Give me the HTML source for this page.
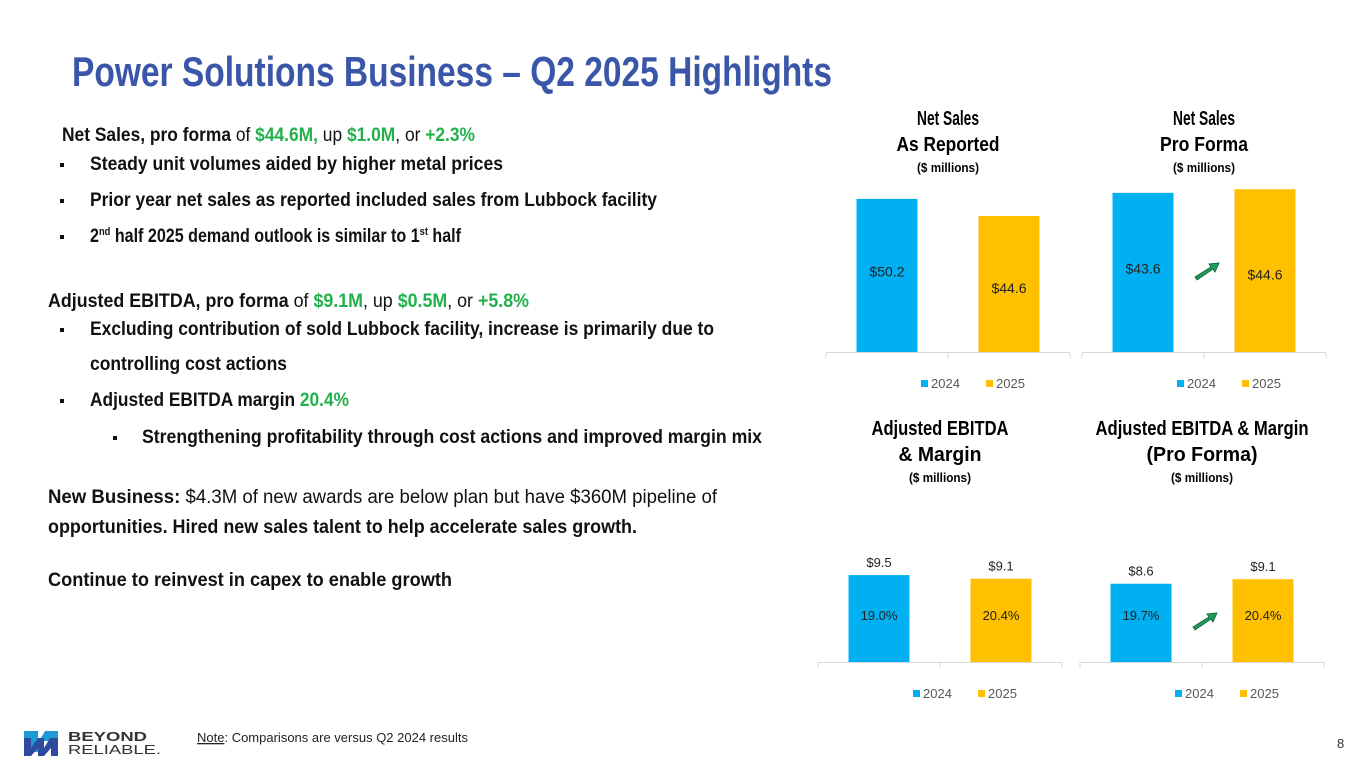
<!DOCTYPE html>
<html><head><meta charset="utf-8"><style>
html,body{margin:0;padding:0;background:#fff;}
svg{display:block;}
.c{font-family:"Liberation Sans Narrow","Liberation Sans",sans-serif;font-weight:bold;}
.s{font-family:"Liberation Sans",sans-serif;}
</style></head><body>
<svg id="root" width="1365" height="768" viewBox="0 0 1365 768" xmlns="http://www.w3.org/2000/svg">
<text class="c" x="72" y="86" font-size="42" fill="#3a56a8" textLength="760" lengthAdjust="spacingAndGlyphs">Power Solutions Business – Q2 2025 Highlights</text>
<g class="c" font-size="19" fill="#111">
<text x="62" y="141" textLength="413" lengthAdjust="spacingAndGlyphs">Net Sales, pro forma <tspan font-weight="normal">of </tspan><tspan fill="#22b14c">$44.6M,</tspan><tspan font-weight="normal"> up </tspan><tspan fill="#22b14c">$1.0M</tspan><tspan font-weight="normal">, or </tspan><tspan fill="#22b14c">+2.3%</tspan></text>
<rect x="60" y="163" width="4" height="4"/><text x="90" y="170" textLength="413" lengthAdjust="spacingAndGlyphs">Steady unit volumes aided by higher metal prices</text>
<rect x="60" y="199" width="4" height="4"/><text x="90" y="206" textLength="567" lengthAdjust="spacingAndGlyphs">Prior year net sales as reported included sales from Lubbock facility</text>
<rect x="60" y="235" width="4" height="4"/><text x="90" y="242" textLength="371" lengthAdjust="spacingAndGlyphs">2<tspan font-size="11" dy="-7">nd</tspan><tspan dy="7"> half 2025 demand outlook is similar to 1</tspan><tspan font-size="11" dy="-7">st</tspan><tspan dy="7"> half</tspan></text>
<text x="48" y="307" textLength="481" lengthAdjust="spacingAndGlyphs">Adjusted EBITDA, pro forma <tspan font-weight="normal">of </tspan><tspan fill="#22b14c">$9.1M</tspan><tspan font-weight="normal">,  up </tspan><tspan fill="#22b14c">$0.5M</tspan><tspan font-weight="normal">, or </tspan><tspan fill="#22b14c">+5.8%</tspan></text>
<rect x="60" y="328" width="4" height="4"/><text x="90" y="335" textLength="624" lengthAdjust="spacingAndGlyphs">Excluding contribution of sold Lubbock facility, increase is primarily due to</text>
<text x="90" y="370" textLength="197" lengthAdjust="spacingAndGlyphs">controlling cost actions</text>
<rect x="60" y="399" width="4" height="4"/><text x="90" y="406" textLength="259" lengthAdjust="spacingAndGlyphs">Adjusted EBITDA margin <tspan fill="#22b14c">20.4%</tspan></text>
<rect x="113" y="436" width="4" height="4"/><text x="142" y="443" textLength="620" lengthAdjust="spacingAndGlyphs">Strengthening profitability through cost actions and improved margin mix</text>
<text x="48" y="503" textLength="669" lengthAdjust="spacingAndGlyphs">New Business:  <tspan font-weight="normal">$4.3M of new awards are below plan but have $360M pipeline of</tspan></text>
<text x="48" y="533" textLength="589" lengthAdjust="spacingAndGlyphs">opportunities. Hired new sales talent to help accelerate sales growth.</text>
<text x="48" y="586" textLength="404" lengthAdjust="spacingAndGlyphs">Continue to reinvest in capex to enable growth</text>
</g>
<g id="charts"></g>
<g>
<polygon points="24,731 38,731 38,743 45,731 58,731 58,741 44,741 38,752 24,752" fill="#1b9ad6"/>
<polygon points="24,738 31,738 31,748 38,738 44,738 44,748 50,738 58,738 58,756 51,756 51,748 44,756 38,756 38,748 31,756 24,756" fill="#2e4a9e"/>
<text class="s" x="68" y="741" font-size="13" font-weight="bold" fill="#333" textLength="79" lengthAdjust="spacingAndGlyphs">BEYOND</text>
<text class="s" x="68" y="754" font-size="13" fill="#333" textLength="93" lengthAdjust="spacingAndGlyphs">RELIABLE.</text>
</g>
<text class="s" x="197" y="742" font-size="13" fill="#222"><tspan text-decoration="underline">Note</tspan>: Comparisons are versus Q2 2024 results</text>
<text class="s" x="1337" y="748" font-size="13" fill="#333">8</text>
</svg>
<script>
const years = ["2024", "2025"];
const netSalesReported = [50.2, 44.6];
const netSalesProForma = [43.6, 44.6];
const ebitda = [9.5, 9.1];
const ebitdaMargin = ["19.0%", "20.4%"];
const ebitdaProForma = [8.6, 9.1];
const ebitdaProFormaMargin = ["19.7%", "20.4%"];
const colors = ["#00b0f0", "#ffc000"];
const NS = "http://www.w3.org/2000/svg";
const root = document.getElementById("charts");
function mk(tag, attrs, parent) {
  const e = document.createElementNS(NS, tag);
  for (const k in attrs) e.setAttribute(k, attrs[k]);
  (parent || root).appendChild(e);
  return e;
}
function chart(cfg) {
  const g = mk("g", {});
  
  
  const w = cfg.x1 - cfg.x0, slot = w / years.length;
  const y = v => cfg.base - v * cfg.scale;
  cfg.title.forEach((t, i) => {
    const tt = mk("text", {x: (cfg.x0 + cfg.x1) / 2, y: cfg.ty + i * 26, "text-anchor": "middle", "font-size": 20, fill: "#000", class: "c", textLength: cfg.tl[i], lengthAdjust: "spacingAndGlyphs"}, g);
    tt.textContent = t;
    
    
  });
  const sub = mk("text", {x: (cfg.x0 + cfg.x1) / 2, y: cfg.ty + 47, "text-anchor": "middle", "font-size": 13, fill: "#000", class: "c", textLength: 62, lengthAdjust: "spacingAndGlyphs"}, g);
  sub.textContent = "($ millions)";
  
  
  mk("line", {x1: cfg.x0, x2: cfg.x1, y1: cfg.base + 0.5, y2: cfg.base + 0.5, stroke: "#d9d9d9"}, g);
  for (let i = 0; i <= years.length; i++) mk("line", {x1: cfg.x0 + i * slot, x2: cfg.x0 + i * slot, y1: cfg.base, y2: cfg.base + 6, stroke: "#d9d9d9"}, g);
  cfg.values.forEach((v, i) => {
    const bw = slot * 0.5, bx = cfg.x0 + i * slot + (slot - bw) / 2;
    const r = mk("rect", {x: bx, y: y(v), width: bw, height: cfg.base - y(v), fill: colors[i]}, g);
    
    
    const cx = bx + bw / 2;
    if (cfg.inner) {
      const lt = mk("text", {x: cx, y: cfg.innerY, "text-anchor": "middle", "font-size": 13, fill: "#222", class: "s"}, g);
      lt.textContent = cfg.inner[i];
      
      
      const vt = mk("text", {x: cx, y: y(v) - 8, "text-anchor": "middle", "font-size": 13, fill: "#222", class: "s"}, g);
      vt.textContent = "$" + v.toFixed(1);
      
      
    } else {
      const vt = mk("text", {x: cx, y: (y(v) + cfg.base) / 2 + 5 + (i ? 4 : -4), "text-anchor": "middle", "font-size": 14, fill: "#222", class: "s"}, g);
      vt.textContent = "$" + v.toFixed(1);
      
      
    }
  });
  if (cfg.arrow) {
    const ax = (cfg.x0 + cfg.x1) / 2 - 9, ay = cfg.arrow;
    const a = mk("polygon", {points: `${ax},${ay} ${ax+16},${ay-10} ${ax+14},${ay-13} ${ax+24},${ay-14} ${ax+20},${ay-5} ${ax+18},${ay-8} ${ax+2},${ay+3}`, fill: "#1e9e5a", stroke: "#0d5a30", "stroke-width": 0.8}, g);
    
    
  }
  const ly = cfg.base + 36, lc = (cfg.x0 + cfg.x1) / 2;
  years.forEach((yr, i) => {
    const lx = lc - 27 + i * 65;
    const sq = mk("rect", {x: lx, y: ly - 8, width: 7, height: 7, fill: colors[i]}, g);
    
    
    const lt = mk("text", {x: lx + 10, y: ly, "font-size": 13, fill: "#595959", class: "s"}, g);
    lt.textContent = yr;
    
    
  });
}
chart({name: "net-sales-reported-chart", x0: 826, x1: 1070, base: 352, scale: 3.05, values: netSalesReported, title: ["Net Sales", "As Reported"], tl: [62, 103], ty: 125});
chart({name: "net-sales-pro-forma-chart", x0: 1082, x1: 1326, base: 352, scale: 3.65, values: netSalesProForma, title: ["Net Sales", "Pro Forma"], tl: [62, 88], ty: 125, arrow: 277});
chart({name: "ebitda-chart", x0: 818, x1: 1062, base: 662, scale: 9.15, values: ebitda, inner: ebitdaMargin, innerY: 620, title: ["Adjusted EBITDA", "& Margin"], tl: [137, 83], ty: 435});
chart({name: "ebitda-pro-forma-chart", x0: 1080, x1: 1324, base: 662, scale: 9.1, values: ebitdaProForma, inner: ebitdaProFormaMargin, innerY: 620, title: ["Adjusted EBITDA & Margin", "(Pro Forma)"], tl: [213, 111], ty: 435, arrow: 627});
</script>
</body></html>
